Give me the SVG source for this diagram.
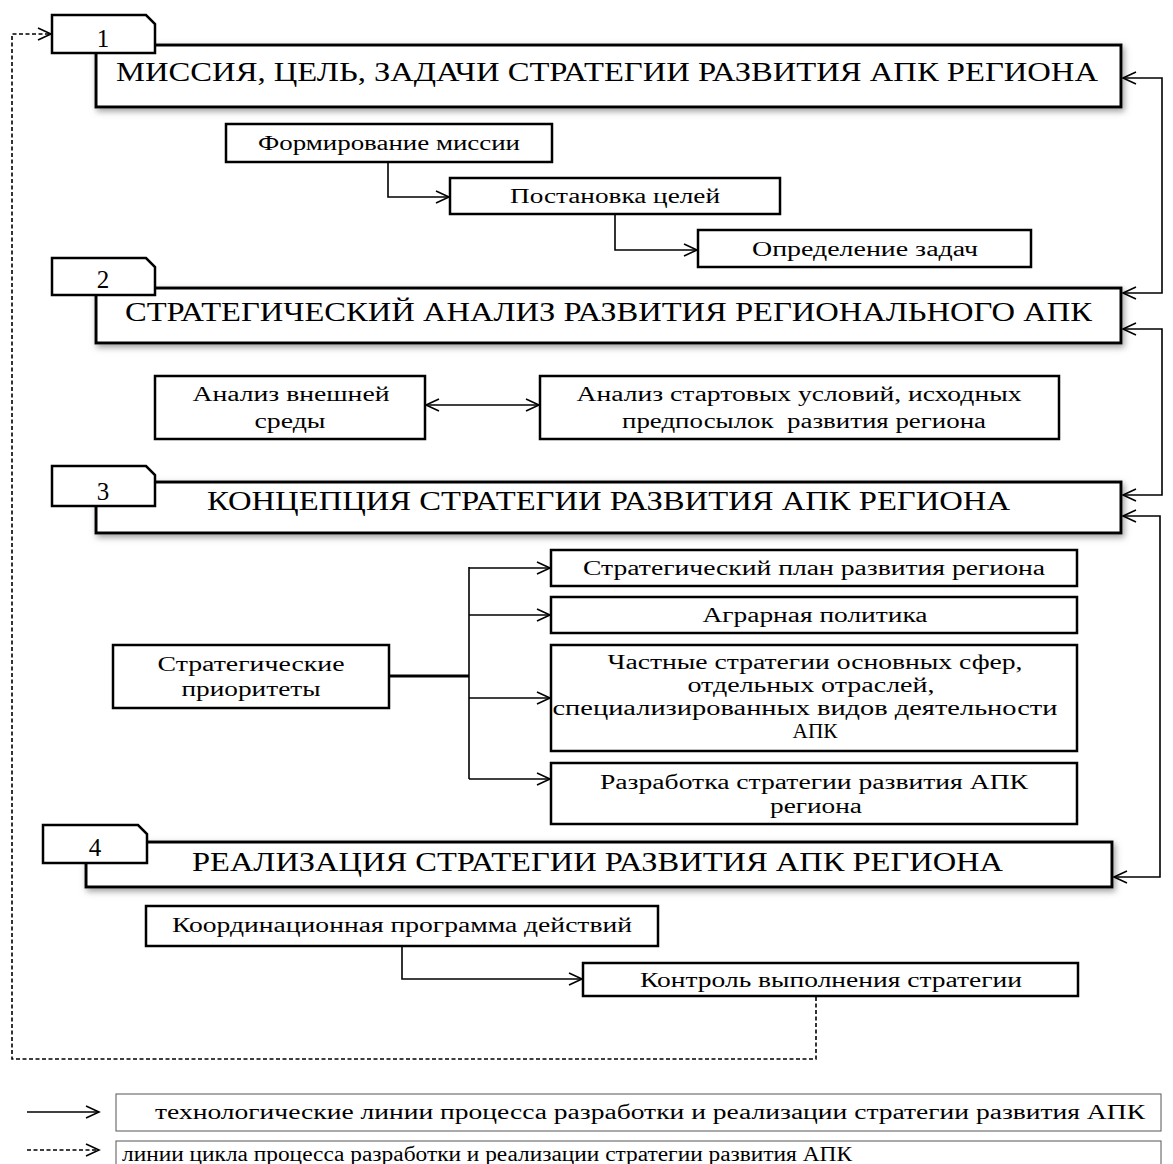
<svg xmlns="http://www.w3.org/2000/svg" width="1173" height="1164" viewBox="0 0 1173 1164">
<style>
text{font-family:"Liberation Serif","Times New Roman",serif;fill:#000}
.box{fill:#fff;stroke:#000;stroke-width:2.5}
.hdr{fill:#fff;stroke:#000;stroke-width:3;filter:url(#sh)}
.tab{fill:#fff;stroke:#000;stroke-width:2.5}
.t{font-size:20px;text-anchor:middle}
.h{font-size:28px}
.n{font-size:25px;text-anchor:middle}
.ln{fill:none;stroke:#000;stroke-width:1.6}
.dl{fill:none;stroke:#000;stroke-width:1.6;stroke-dasharray:4 2.5}
.leg{fill:#fff;stroke:#555;stroke-width:1}
</style>
<defs>
<filter id="sh" x="-5%" y="-30%" width="110%" height="160%">
<feDropShadow dx="2" dy="3" stdDeviation="3" flood-color="#777" flood-opacity="0.7"/>
</filter>
<marker id="ar" markerUnits="userSpaceOnUse" markerWidth="16" markerHeight="14" refX="14" refY="7" orient="auto-start-reverse">
<path d="M1,1 L14,7 L1,13" fill="none" stroke="#000" stroke-width="1.6"/>
</marker>
</defs>

<g id="stage1">
<rect class="hdr" x="96" y="45" width="1025" height="62"/>
<path class="tab" d="M52,15 H146 L155,24 V53 H52 Z"/>
<text class="n" x="103" y="47">1</text>
<text class="h" x="116" y="81" textLength="982" lengthAdjust="spacingAndGlyphs">МИССИЯ, ЦЕЛЬ, ЗАДАЧИ СТРАТЕГИИ РАЗВИТИЯ АПК РЕГИОНА</text>
</g>
<g id="n-mission"><rect class="box" x="226" y="124" width="326" height="38"/><text class="t" x="389" y="150" textLength="262" lengthAdjust="spacingAndGlyphs">Формирование миссии</text></g>
<g id="n-goals"><rect class="box" x="450" y="178" width="330" height="36"/><text class="t" x="615" y="203" textLength="210" lengthAdjust="spacingAndGlyphs">Постановка целей</text></g>
<g id="n-tasks"><rect class="box" x="698" y="230" width="333" height="37"/><text class="t" x="865" y="256" textLength="226" lengthAdjust="spacingAndGlyphs">Определение задач</text></g>

<g id="stage2">
<rect class="hdr" x="96" y="288" width="1025" height="55"/>
<path class="tab" d="M52,258 H146 L155,267 V295 H52 Z"/>
<text class="n" x="103" y="288">2</text>
<text class="h" x="125" y="321" textLength="967" lengthAdjust="spacingAndGlyphs">СТРАТЕГИЧЕСКИЙ АНАЛИЗ РАЗВИТИЯ РЕГИОНАЛЬНОГО АПК</text>
</g>
<g id="n-ext"><rect class="box" x="155" y="376" width="270" height="63"/><text class="t" x="291" y="401" textLength="197" lengthAdjust="spacingAndGlyphs">Анализ внешней</text><text class="t" x="290" y="428" textLength="71" lengthAdjust="spacingAndGlyphs">среды</text></g>
<g id="n-start"><rect class="box" x="540" y="376" width="519" height="63"/><text class="t" x="799" y="401" textLength="445" lengthAdjust="spacingAndGlyphs">Анализ стартовых условий, исходных</text><text class="t" x="804" y="428" textLength="364" lengthAdjust="spacingAndGlyphs" xml:space="preserve">предпосылок  развития региона</text></g>

<g id="stage3">
<rect class="hdr" x="96" y="482" width="1025" height="51"/>
<path class="tab" d="M52,466 H146 L155,475 V506 H52 Z"/>
<text class="n" x="103" y="500">3</text>
<text class="h" x="207" y="510" textLength="803" lengthAdjust="spacingAndGlyphs">КОНЦЕПЦИЯ СТРАТЕГИИ РАЗВИТИЯ АПК РЕГИОНА</text>
</g>
<g id="n-prior"><rect class="box" x="113" y="645" width="276" height="63"/><text class="t" x="251" y="671" textLength="187" lengthAdjust="spacingAndGlyphs">Стратегические</text><text class="t" x="251" y="696" textLength="139" lengthAdjust="spacingAndGlyphs">приоритеты</text></g>
<g id="n-plan"><rect class="box" x="551" y="550" width="526" height="36"/><text class="t" x="814" y="575" textLength="462" lengthAdjust="spacingAndGlyphs">Стратегический план развития региона</text></g>
<g id="n-agro"><rect class="box" x="551" y="597" width="526" height="36"/><text class="t" x="815" y="622" textLength="225" lengthAdjust="spacingAndGlyphs">Аграрная политика</text></g>
<g id="n-private"><rect class="box" x="551" y="645" width="526" height="106"/><text class="t" x="815" y="669" textLength="415" lengthAdjust="spacingAndGlyphs">Частные стратегии основных сфер,</text><text class="t" x="811" y="692" textLength="247" lengthAdjust="spacingAndGlyphs">отдельных отраслей,</text><text class="t" x="805" y="715" textLength="505" lengthAdjust="spacingAndGlyphs">специализированных видов деятельности</text><text class="t" x="815" y="738" textLength="45" lengthAdjust="spacingAndGlyphs">АПК</text></g>
<g id="n-dev"><rect class="box" x="551" y="763" width="526" height="61"/><text class="t" x="814" y="789" textLength="428" lengthAdjust="spacingAndGlyphs">Разработка стратегии развития АПК</text><text class="t" x="816" y="813" textLength="92" lengthAdjust="spacingAndGlyphs">региона</text></g>

<g id="stage4">
<rect class="hdr" x="86" y="842" width="1026" height="45"/>
<path class="tab" d="M43,825 H138 L147,834 V863 H43 Z"/>
<text class="n" x="95" y="856">4</text>
<text class="h" x="192" y="871" textLength="811" lengthAdjust="spacingAndGlyphs">РЕАЛИЗАЦИЯ СТРАТЕГИИ РАЗВИТИЯ АПК РЕГИОНА</text>
</g>
<g id="n-coord"><rect class="box" x="146" y="906" width="512" height="40"/><text class="t" x="402" y="932" textLength="460" lengthAdjust="spacingAndGlyphs">Координационная программа действий</text></g>
<g id="n-control"><rect class="box" x="583" y="963" width="495" height="33"/><text class="t" x="831" y="987" textLength="382" lengthAdjust="spacingAndGlyphs">Контроль выполнения стратегии</text></g>

<g id="connectors">
<path class="ln" d="M388,162 V197 H449" marker-end="url(#ar)"/>
<path class="ln" d="M615,214 V250 H697" marker-end="url(#ar)"/>
<path class="ln" d="M426,405 H539" marker-start="url(#ar)" marker-end="url(#ar)"/>
<path d="M390,676 H469" fill="none" stroke="#000" stroke-width="3"/>
<path class="ln" d="M469,567 V779" stroke-width="2"/>
<path class="ln" d="M469,568 H550" marker-end="url(#ar)"/>
<path class="ln" d="M469,615 H550" marker-end="url(#ar)"/>
<path class="ln" d="M469,698 H550" marker-end="url(#ar)"/>
<path class="ln" d="M469,779 H550" marker-end="url(#ar)"/>
<path class="ln" d="M402,946 V979 H582" marker-end="url(#ar)"/>
<path class="ln" d="M1123,78 H1162 V293 H1123" marker-start="url(#ar)" marker-end="url(#ar)"/>
<path class="ln" d="M1123,329 H1162 V495 H1123" marker-start="url(#ar)" marker-end="url(#ar)"/>
<path class="ln" d="M1123,516 H1160 V877 H1114" marker-start="url(#ar)" marker-end="url(#ar)"/>
<path class="dl" d="M816,997 V1059 H12 V34 H51" marker-end="url(#ar)"/>
</g>

<g id="legend">
<path class="ln" d="M27,1112 H99" marker-end="url(#ar)"/>
<path class="dl" d="M27,1150 H99" marker-end="url(#ar)"/>
<rect class="leg" x="116" y="1094" width="1045" height="37"/>
<rect class="leg" x="116" y="1141" width="1045" height="30"/>
<text class="t" x="650" y="1119" textLength="990" lengthAdjust="spacingAndGlyphs">технологические линии процесса разработки и реализации стратегии развития АПК</text>
<text class="t" x="122" y="1161" style="text-anchor:start" textLength="730" lengthAdjust="spacingAndGlyphs">линии цикла процесса разработки и реализации стратегии развития АПК</text>
</g>
</svg>
